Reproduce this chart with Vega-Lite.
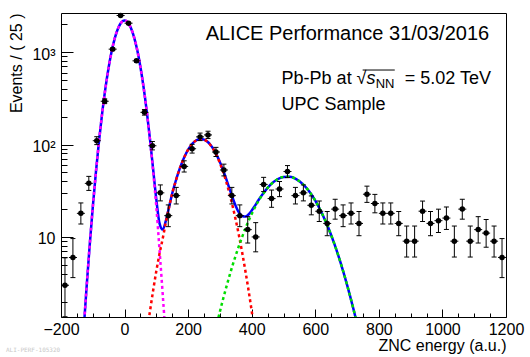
{
 "$schema": "https://vega.github.io/schema/vega-lite/v6.json",
 "width": 445, "height": 304,
 "autosize": {"type": "none"},
 "padding": {"left": 61, "top": 13, "right": 24, "bottom": 40},
 "background": "white",
 "config": {
  "view": {"stroke": "black", "strokeWidth": 1},
  "font": "Liberation Sans",
  "axis": {"labelFont": "Liberation Sans", "titleFont": "Liberation Sans", "labelFontSize": 16, "titleFontSize": 16, "titleFontWeight": "normal", "labelColor": "black", "titleColor": "black", "tickColor": "black", "grid": false, "domain": false, "labelOverlap": false, "labelFlush": false}
 },
 "encoding": {
  "x": {"field": "x", "type": "quantitative", "scale": {"domain": [-200, 1200], "nice": false, "zero": false},
   "axis": {"values": [-200,-150,-100,-50,0,50,100,150,200,250,300,350,400,450,500,550,600,650,700,750,800,850,900,950,1000,1050,1100,1150,1200],
    "format": "d", "labelExpr": "datum.value % 200 == 0 ? datum.label : ''",
    "tickSize": {"condition": {"test": "datum.value % 200 == 0", "value": -8}, "value": -4},
    "labelPadding": 12,
    "title": "ZNC energy (a.u.)", "titleAlign": "right", "titleBaseline": "alphabetic", "titleX": 445, "titleY": 33}},
  "y": {"field": "y", "type": "quantitative", "scale": {"type": "log", "domain": [1.36, 2650], "nice": false},
   "axis": {"values": [2,3,4,5,6,7,8,9,10,20,30,40,50,60,70,80,90,100,200,300,400,500,600,700,800,900,1000,2000],
    "labelExpr": "datum.value == 10 ? '10' : datum.value == 100 ? '10²' : datum.value == 1000 ? '10³' : ''",
    "tickSize": {"condition": {"test": "datum.value == 10 || datum.value == 100 || datum.value == 1000", "value": -12}, "value": -6},
    "labelPadding": 18, "labelOffset": 2,
    "title": "Events / ( 25 )", "titleAngle": -90, "titleAlign": "right", "titleBaseline": "alphabetic", "titleX": -40, "titleY": 0}}
 },
 "datasets": {
  "pts": [
   {"x":-187.5,"y":3,"lo":1.37,"hi":5.94},{"x":-162.5,"y":6,"lo":3.63,"hi":9.6},{"x":-137.5,"y":18,"lo":13.8,"hi":23.33},{"x":-112.5,"y":38,"lo":31.87,"hi":45.23},
   {"x":-87.5,"y":110,"lo":99.8,"hi":121.5},{"x":-62.5,"y":294,"lo":277,"hi":312},{"x":-37.5,"y":1077,"lo":1044,"hi":1111},{"x":-12.5,"y":2490,"lo":2440,"hi":2541},
   {"x":12.5,"y":2056,"lo":2011,"hi":2102},{"x":37.5,"y":805,"lo":777,"hi":834},{"x":62.5,"y":223,"lo":208,"hi":239},{"x":87.5,"y":97,"lo":87.5,"hi":107.9},
   {"x":112.5,"y":30,"lo":24.55,"hi":36.55},{"x":137.5,"y":17,"lo":12.92,"hi":22.21},{"x":162.5,"y":28,"lo":22.74,"hi":34.36},{"x":187.5,"y":58,"lo":50.4,"hi":66.67},
   {"x":212.5,"y":90,"lo":80.8,"hi":100.5},{"x":237.5,"y":121,"lo":110.3,"hi":133},{"x":262.5,"y":127,"lo":116,"hi":139.3},{"x":287.5,"y":83,"lo":74.2,"hi":93.15},
   {"x":312.5,"y":53,"lo":45.74,"hi":61.33},{"x":337.5,"y":28,"lo":22.74,"hi":34.36},{"x":362.5,"y":17,"lo":12.92,"hi":22.21},{"x":387.5,"y":12,"lo":8.59,"hi":16.57},
   {"x":412.5,"y":10,"lo":6.9,"hi":14.28},{"x":437.5,"y":37,"lo":30.95,"hi":44.14},{"x":462.5,"y":26,"lo":20.93,"hi":32.17},{"x":487.5,"y":33,"lo":27.29,"hi":39.81},
   {"x":512.5,"y":51,"lo":43.88,"hi":59.19},{"x":537.5,"y":28,"lo":22.74,"hi":34.36},{"x":562.5,"y":30,"lo":24.55,"hi":36.55},{"x":587.5,"y":22,"lo":17.35,"hi":27.77},
   {"x":612.5,"y":19,"lo":14.68,"hi":24.44},{"x":637.5,"y":14,"lo":10.31,"hi":18.84},{"x":662.5,"y":20,"lo":15.57,"hi":25.56},{"x":687.5,"y":17,"lo":12.92,"hi":22.21},
   {"x":712.5,"y":18,"lo":13.8,"hi":23.33},{"x":737.5,"y":14,"lo":10.31,"hi":18.84},{"x":762.5,"y":29,"lo":23.65,"hi":35.45},{"x":787.5,"y":23,"lo":18.24,"hi":28.87},
   {"x":812.5,"y":18,"lo":13.8,"hi":23.33},{"x":837.5,"y":18,"lo":13.8,"hi":23.33},{"x":862.5,"y":14,"lo":10.31,"hi":18.84},{"x":887.5,"y":9,"lo":6.06,"hi":13.12},
   {"x":912.5,"y":9,"lo":6.06,"hi":13.12},{"x":937.5,"y":19,"lo":14.68,"hi":24.44},{"x":962.5,"y":14,"lo":10.31,"hi":18.84},{"x":987.5,"y":15,"lo":11.17,"hi":19.97},
   {"x":1012.5,"y":16,"lo":12.05,"hi":21.09},{"x":1037.5,"y":9,"lo":6.06,"hi":13.12},{"x":1062.5,"y":20,"lo":15.57,"hi":25.56},{"x":1087.5,"y":9,"lo":6.06,"hi":13.12},
   {"x":1112.5,"y":12,"lo":8.59,"hi":16.57},{"x":1137.5,"y":11,"lo":7.74,"hi":15.43},{"x":1162.5,"y":9,"lo":6.06,"hi":13.12},{"x":1187.5,"y":6,"lo":3.63,"hi":9.6}
  ],
  "curves": [
   {"c":"t","x":-150,"y":0.063},{"c":"t","x":-140,"y":0.241},{"c":"t","x":-130,"y":0.847},{"c":"t","x":-120,"y":2.71},{"c":"t","x":-110,"y":7.91},{"c":"t","x":-100,"y":21.0},
   {"c":"t","x":-90,"y":50.8},{"c":"t","x":-80,"y":112},{"c":"t","x":-70,"y":225},{"c":"t","x":-60,"y":412},{"c":"t","x":-50,"y":687},{"c":"t","x":-40,"y":1045},
   {"c":"t","x":-30,"y":1446},{"c":"t","x":-20,"y":1825},{"c":"t","x":-10,"y":2100},{"c":"t","x":0,"y":2200},{"c":"t","x":10,"y":2100},{"c":"t","x":20,"y":1825},
   {"c":"t","x":30,"y":1446},{"c":"t","x":40,"y":1045},{"c":"t","x":50,"y":687},{"c":"t","x":60,"y":412.5},{"c":"t","x":70,"y":225.9},{"c":"t","x":80,"y":113.6},
   {"c":"t","x":90,"y":53.5},{"c":"t","x":100,"y":25.3},{"c":"t","x":110,"y":14.0},{"c":"t","x":120,"y":12.0},{"c":"t","x":130,"y":15.0},{"c":"t","x":140,"y":21.0},
   {"c":"t","x":150,"y":29.7},{"c":"t","x":160,"y":39.3},{"c":"t","x":170,"y":50.6},{"c":"t","x":180,"y":62.9},{"c":"t","x":190,"y":75.6},{"c":"t","x":200,"y":88.0},
   {"c":"t","x":210,"y":98.9},{"c":"t","x":220,"y":107.6},{"c":"t","x":230,"y":113.1},{"c":"t","x":240,"y":115.0},{"c":"t","x":250,"y":113.1},{"c":"t","x":260,"y":107.6},
   {"c":"t","x":270,"y":99.5},{"c":"t","x":280,"y":88.8},{"c":"t","x":290,"y":76.7},{"c":"t","x":300,"y":64.5},{"c":"t","x":310,"y":52.7},{"c":"t","x":320,"y":42.2},
   {"c":"t","x":330,"y":33.4},{"c":"t","x":340,"y":26.5},{"c":"t","x":350,"y":21.5},{"c":"t","x":360,"y":18.3},{"c":"t","x":370,"y":16.8},{"c":"t","x":380,"y":16.6},
   {"c":"t","x":390,"y":17.5},{"c":"t","x":400,"y":19.3},{"c":"t","x":410,"y":21.7},{"c":"t","x":420,"y":24.6},{"c":"t","x":440,"y":30.8},{"c":"t","x":460,"y":37.0},
   {"c":"t","x":480,"y":41.8},{"c":"t","x":500,"y":44.6},{"c":"t","x":520,"y":44.7},{"c":"t","x":540,"y":42.2},{"c":"t","x":560,"y":37.5},{"c":"t","x":580,"y":31.4},
   {"c":"t","x":600,"y":24.7},{"c":"t","x":620,"y":18.3},{"c":"t","x":640,"y":12.8},{"c":"t","x":660,"y":8.41},{"c":"t","x":680,"y":5.21},{"c":"t","x":700,"y":3.03},
   {"c":"t","x":720,"y":1.66},{"c":"t","x":740,"y":0.858},{"c":"t","x":760,"y":0.417},
   {"c":"a","x":-150,"y":0.063},{"c":"a","x":-140,"y":0.241},{"c":"a","x":-130,"y":0.847},{"c":"a","x":-120,"y":2.71},{"c":"a","x":-110,"y":7.91},{"c":"a","x":-100,"y":21.0},
   {"c":"a","x":-90,"y":50.8},{"c":"a","x":-80,"y":112},{"c":"a","x":-70,"y":225},{"c":"a","x":-60,"y":412},{"c":"a","x":-50,"y":687},{"c":"a","x":-40,"y":1045},
   {"c":"a","x":-30,"y":1446},{"c":"a","x":-20,"y":1825},{"c":"a","x":-10,"y":2100},{"c":"a","x":0,"y":2200},{"c":"a","x":10,"y":2100},{"c":"a","x":20,"y":1825},
   {"c":"a","x":30,"y":1446},{"c":"a","x":40,"y":1045},{"c":"a","x":50,"y":687},{"c":"a","x":60,"y":412},{"c":"a","x":70,"y":225},{"c":"a","x":80,"y":112},
   {"c":"a","x":90,"y":50.8},{"c":"a","x":100,"y":21.0},{"c":"a","x":110,"y":7.2},{"c":"a","x":120,"y":2.4},{"c":"a","x":130,"y":0.75},{"c":"a","x":140,"y":0.21},{"c":"a","x":150,"y":0.055},
   {"c":"b","x":60,"y":0.504},{"c":"b","x":70,"y":0.906},{"c":"b","x":80,"y":1.574},{"c":"b","x":90,"y":2.65},{"c":"b","x":100,"y":4.30},{"c":"b","x":110,"y":6.6},
   {"c":"b","x":120,"y":9.6},{"c":"b","x":130,"y":14.5},{"c":"b","x":140,"y":21.0},{"c":"b","x":150,"y":29.6},{"c":"b","x":160,"y":39.3},{"c":"b","x":170,"y":50.6},
   {"c":"b","x":180,"y":62.9},{"c":"b","x":190,"y":75.6},{"c":"b","x":200,"y":88.0},{"c":"b","x":210,"y":98.9},{"c":"b","x":220,"y":107.6},{"c":"b","x":230,"y":113.1},
   {"c":"b","x":240,"y":115.0},{"c":"b","x":250,"y":113.1},{"c":"b","x":260,"y":107.6},{"c":"b","x":270,"y":98.9},{"c":"b","x":280,"y":88.0},{"c":"b","x":290,"y":75.6},
   {"c":"b","x":300,"y":62.9},{"c":"b","x":310,"y":50.6},{"c":"b","x":320,"y":39.3},{"c":"b","x":330,"y":29.6},{"c":"b","x":340,"y":21.5},{"c":"b","x":350,"y":15.13},
   {"c":"b","x":360,"y":10.29},{"c":"b","x":370,"y":6.77},{"c":"b","x":380,"y":4.30},{"c":"b","x":390,"y":2.65},{"c":"b","x":400,"y":1.574},{"c":"b","x":410,"y":0.906},{"c":"b","x":420,"y":0.504},
   {"c":"g","x":270,"y":0.560},{"c":"g","x":280,"y":0.800},{"c":"g","x":290,"y":1.126},{"c":"g","x":300,"y":1.560},{"c":"g","x":310,"y":2.13},{"c":"g","x":320,"y":2.86},
   {"c":"g","x":330,"y":3.79},{"c":"g","x":340,"y":4.95},{"c":"g","x":350,"y":6.35},{"c":"g","x":360,"y":8.04},{"c":"g","x":370,"y":10.03},{"c":"g","x":380,"y":12.31},
   {"c":"g","x":390,"y":14.89},{"c":"g","x":400,"y":17.74},{"c":"g","x":420,"y":24.07},{"c":"g","x":440,"y":30.7},{"c":"g","x":460,"y":36.95},{"c":"g","x":480,"y":41.8},
   {"c":"g","x":500,"y":44.6},{"c":"g","x":520,"y":44.7},{"c":"g","x":540,"y":42.2},{"c":"g","x":560,"y":37.5},{"c":"g","x":580,"y":31.4},{"c":"g","x":600,"y":24.7},
   {"c":"g","x":620,"y":18.34},{"c":"g","x":640,"y":12.8},{"c":"g","x":660,"y":8.41},{"c":"g","x":680,"y":5.21},{"c":"g","x":700,"y":3.03},{"c":"g","x":720,"y":1.66},
   {"c":"g","x":740,"y":0.858},{"c":"g","x":760,"y":0.417}
  ]
 },
 "layer": [
  {
   "data": {"name": "curves"},
   "transform": [{"filter": "datum.c == 't'"}],
   "mark": {"type": "line", "stroke": "#0000ff", "strokeWidth": 2.5, "interpolate": "monotone", "clip": true}
  },
  {
   "data": {"name": "curves"},
   "transform": [{"filter": "datum.c == 'a'"}],
   "mark": {"type": "line", "stroke": "#ff00ff", "strokeWidth": 2.5, "strokeDash": [3, 3], "interpolate": "monotone", "clip": true}
  },
  {
   "data": {"name": "curves"},
   "transform": [{"filter": "datum.c == 'b'"}],
   "mark": {"type": "line", "stroke": "#ff0000", "strokeWidth": 2.5, "strokeDash": [3, 3], "interpolate": "monotone", "clip": true}
  },
  {
   "data": {"name": "curves"},
   "transform": [{"filter": "datum.c == 'g'"}],
   "mark": {"type": "line", "stroke": "#00dd00", "strokeWidth": 2.5, "strokeDash": [3, 3], "interpolate": "monotone", "clip": true}
  },
  {
   "data": {"name": "pts"},
   "mark": {"type": "rule", "color": "black", "strokeWidth": 1, "clip": true},
   "encoding": {
    "y": {"field": "lo", "type": "quantitative", "scale": {"type": "log", "domain": [1.36, 2650], "nice": false}},
    "y2": {"field": "hi"}
   }
  },
  {
   "data": {"name": "pts"},
   "mark": {"type": "tick", "orient": "horizontal", "size": 5, "thickness": 1, "color": "black", "opacity": 1, "clip": true},
   "encoding": {
    "y": {"field": "lo", "type": "quantitative", "scale": {"type": "log", "domain": [1.36, 2650], "nice": false}}
   }
  },
  {
   "data": {"name": "pts"},
   "mark": {"type": "tick", "orient": "horizontal", "size": 5, "thickness": 1, "color": "black", "opacity": 1, "clip": true},
   "encoding": {
    "y": {"field": "hi", "type": "quantitative", "scale": {"type": "log", "domain": [1.36, 2650], "nice": false}}
   }
  },
  {
   "data": {"name": "pts"},
   "mark": {"type": "tick", "orient": "horizontal", "size": 8, "thickness": 1, "color": "black", "opacity": 1}
  },
  {
   "data": {"name": "pts"},
   "mark": {"type": "circle", "size": 30, "color": "black", "opacity": 1}
  },
  {
   "data": {"values": [{"t": "ALICE Performance  31/03/2016", "x": 1147, "y": 1352}]},
   "mark": {"type": "text", "align": "right", "baseline": "alphabetic", "fontSize": 20, "font": "Liberation Sans", "color": "black"},
   "encoding": {"text": {"field": "t"}}
  },
  {
   "data": {"values": [{"t": "Pb-Pb at", "x": 494, "y": 457}, {"t": "UPC Sample", "x": 494, "y": 236}]},
   "mark": {"type": "text", "align": "left", "baseline": "alphabetic", "fontSize": 18, "font": "Liberation Sans", "color": "black"},
   "encoding": {"text": {"field": "t"}}
  },
  {
   "data": {"values": [{"t": "√", "x": 730, "y": 457}]},
   "mark": {"type": "text", "align": "left", "baseline": "alphabetic", "fontSize": 18, "font": "Liberation Sans", "color": "black"},
   "encoding": {"text": {"field": "t"}}
  },
  {
   "data": {"values": [{"t": "s", "x": 761, "y": 457}]},
   "mark": {"type": "text", "align": "left", "baseline": "alphabetic", "fontSize": 18, "fontStyle": "italic", "font": "Liberation Sans", "color": "black"},
   "encoding": {"text": {"field": "t"}}
  },
  {
   "data": {"values": [{"t": "NN", "x": 790, "y": 414}]},
   "mark": {"type": "text", "align": "left", "baseline": "alphabetic", "fontSize": 13, "font": "Liberation Sans", "color": "black"},
   "encoding": {"text": {"field": "t"}}
  },
  {
   "data": {"values": [{"t": "= 5.02 TeV", "x": 1153, "y": 457}]},
   "mark": {"type": "text", "align": "right", "baseline": "alphabetic", "fontSize": 18, "font": "Liberation Sans", "color": "black"},
   "encoding": {"text": {"field": "t"}}
  },
  {
   "data": {"values": [{"x": 749, "x2": 850, "y": 640}]},
   "mark": {"type": "rule", "color": "black", "strokeWidth": 1},
   "encoding": {"x2": {"field": "x2"}}
  },
  {
   "data": {"values": [{"t": "ALI-PERF-105320", "x": -373, "y": 0.57}]},
   "mark": {"type": "text", "align": "left", "baseline": "alphabetic", "fontSize": 6, "font": "DejaVu Sans Mono", "color": "#c8c8c8", "clip": false},
   "encoding": {"text": {"field": "t"}}
  }
 ]
}
